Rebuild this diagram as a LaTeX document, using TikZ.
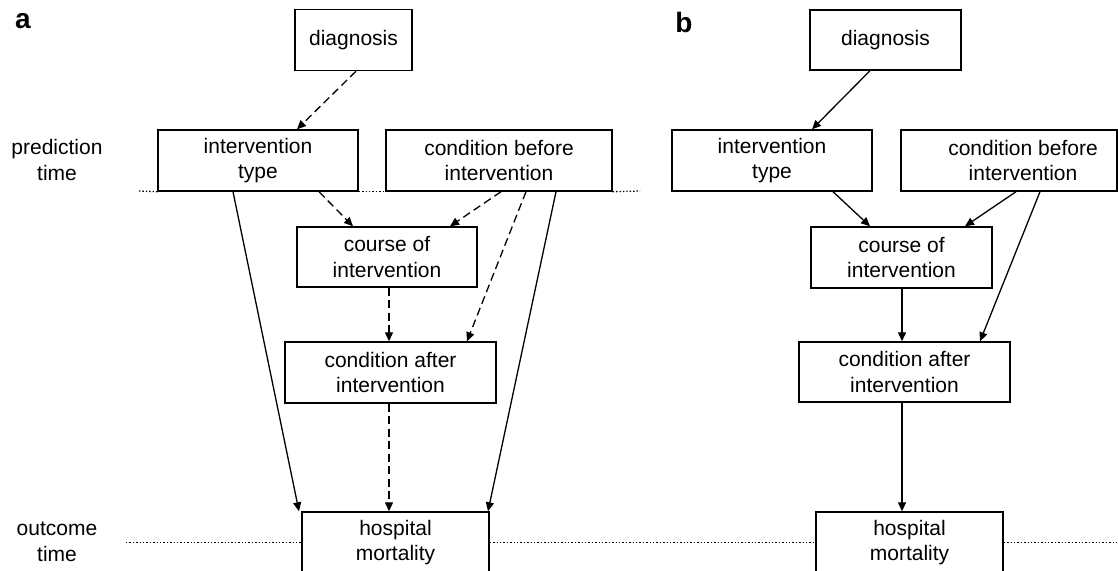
\documentclass[tikz,border=0pt]{standalone}
\usepackage{fontspec}
\setmainfont{Liberation Sans}
\usetikzlibrary{arrows.meta,calc}
\begin{document}
\begin{tikzpicture}[x=1pt,y=-1pt,
  box/.style={draw,line width=1.4pt,inner sep=0pt,align=center,font=\fontsize{21}{25.5}\selectfont},
  lbl/.style={align=center,font=\fontsize{21}{25.5}\selectfont},
  panel/.style={font=\fontsize{28}{30}\selectfont\bfseries},
  arr/.style={line width=1.3pt,-{Triangle[length=9pt,width=8pt]}},
  dsh/.style={arr,dash pattern=on 8pt off 4.5pt},
  timeline/.style={line width=1.3pt,dash pattern=on 1.4pt off 2pt}]
\useasboundingbox (0,0) rectangle (1118,570);
% panel labels
\node[panel] (la) at (23,21) {a};
\node[panel] (lb) at (684,22) {b};
\node[lbl] (pt) at (57,160) {prediction\\time};
\node[lbl] (ot) at (57,542) {outcome\\time};
% panel a
\node[box,minimum width=117pt,minimum height=61pt] (dxa) at (353.5,40) {diagnosis};
\node[box,minimum width=200pt,minimum height=61pt] (ita) at (258,160.5) {intervention\\type};
\node[box,minimum width=226pt,minimum height=61pt] (cba) at (499,160.5) {condition before\\intervention};
\node[box,minimum width=180pt,minimum height=60pt] (coa) at (387,257) {course of\\intervention};
\node[box,minimum width=211pt,minimum height=61pt] (caa) at (390.5,372.5) {condition after\\intervention};
\node[box,minimum width=187pt,minimum height=61pt] (hma) at (395.5,542.5) {hospital\\mortality};
% panel b
\node[box,minimum width=151pt,minimum height=60pt] (dxb) at (885.5,40) {diagnosis};
\node[box,minimum width=200pt,minimum height=61pt] (itb) at (772,160.5) {intervention\\type};
\node[box,minimum width=216pt,minimum height=61pt] (cbb) at (1009,160.5) {\hspace*{28pt}condition before\\\hspace*{28pt}intervention};
\node[box,minimum width=181pt,minimum height=61pt] (cob) at (901.5,257.5) {course of\\intervention};
\node[box,minimum width=211pt,minimum height=60pt] (cab) at (904.5,372) {condition after\\intervention};
\node[box,minimum width=187pt,minimum height=61pt] (hmb) at (909.5,542.5) {hospital\\mortality};
% time lines
\coordinate (pl) at (139,191);
\coordinate (pr) at (640,191);
\coordinate (ol) at (126,542.5);
\coordinate (or) at (1118,542.5);
\draw[timeline] (pl) -- (ita.south west);
\draw[timeline] (ita.south east) -- (cba.south west);
\draw[timeline] (cba.south east) -- (pr);
\draw[timeline] (ol) -- (hma.west);
\draw[timeline] (hma.east) -- (hmb.west);
\draw[timeline] (hmb.east) -- (or);
% arrows a
\draw[dsh] ($(dxa.south)+(2.5,0)$) -- ($(ita.north)+(39,0)$);
\draw[arr] ($(ita.south)+(-25,0)$) -- ($(hma.north)+(-96.5,0)$);
\draw[dsh] ($(ita.south)+(61,0)$) -- ($(coa.north)+(-34,0)$);
\draw[dsh] ($(cba.south)+(2,0)$) -- ($(coa.north)+(63,0)$);
\draw[dsh] ($(cba.south)+(27,0)$) -- ($(caa.north)+(76.5,0)$);
\draw[arr] ($(cba.south)+(57,0)$) -- ($(hma.north)+(92.5,0)$);
\draw[dsh] ($(coa.south)+(2,0)$) -- ($(caa.north)+(-1.5,0)$);
\draw[dsh] ($(caa.south)+(-1.5,0)$) -- ($(hma.north)+(-6.5,0)$);
% arrows b
\draw[arr] ($(dxb.south)+(-15.5,0)$) -- ($(itb.north)+(40,0)$);
\draw[arr] ($(itb.south)+(61,0)$) -- ($(cob.north)+(-31.5,0)$);
\draw[arr] ($(cbb.south)+(7,0)$) -- ($(cob.north)+(63.5,0)$);
\draw[arr] ($(cbb.south)+(31,0)$) -- ($(cab.north)+(75.5,0)$);
\draw[arr] ($(cob.south)+(0.5,0)$) -- ($(cab.north)+(-2.5,0)$);
\draw[arr] ($(cab.south)+(-2.5,0)$) -- ($(hmb.north)+(-7.5,0)$);
\end{tikzpicture}
\end{document}
